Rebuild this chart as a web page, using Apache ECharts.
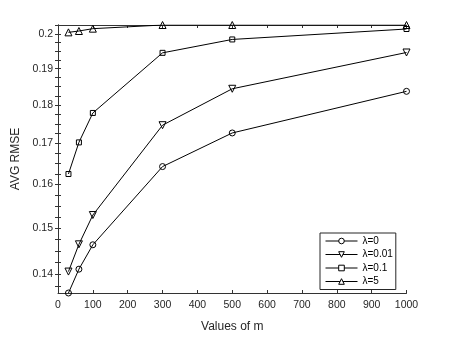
<!DOCTYPE html>
<html><head><meta charset="utf-8">
<script src="https://cdn.jsdelivr.net/npm/echarts@6/dist/echarts.min.js"></script>
<style>html,body{margin:0;padding:0;background:#fff}#c{width:449px;height:338px}</style>
</head><body><div id="c"></div>
<script>
const mValues = [30, 60, 100, 300, 500, 1000];
const seriesNames = ['\u03bb=0', '\u03bb=0.01', '\u03bb=0.1', '\u03bb=5'];
const lambda0 = [0.1362, 0.1411, 0.1463, 0.1643, 0.1727, 0.1837];
const lambda001 = [0.1406, 0.1464, 0.1529, 0.1747, 0.1844, 0.1946];
const lambda01 = [0.1625, 0.1703, 0.1779, 0.1945, 0.1984, 0.2015];
const lambda5 = [0.2005, 0.2009, 0.2016, 0.2027, 0.2027, 0.2027];
const yTickLabels = [0.14, 0.15, 0.16, 0.17, 0.18, 0.19, 0.2];
const yTicks = [0.1375,0.14,0.1425,0.145,0.1475,0.15,0.1525,0.155,0.1575,0.16,0.1625,0.165,0.1675,0.17,0.1725,0.175,0.1775,0.18,0.1825,0.185,0.1875,0.19,0.1925,0.195,0.1975,0.2,0.2025];
const xTickLabels = [0,100,200,300,400,500,600,700,800,900,1000];

const FONT = 'Liberation Sans, Arial, sans-serif';
const AX = '#333333';
const chart = echarts.init(document.getElementById('c'), null, {renderer:'canvas'});
const yMin = 0.1362, yMax = 0.2027;

function mk(name, vals, symbol, size, rot) {
  return {
    name, type:'line', data: mValues.map((m,i)=>[m, vals[i]]),
    symbol, symbolSize: size, symbolRotate: rot || 0, showAllSymbol:true,
    lineStyle:{color:'#000', width:1}, itemStyle:{color:'rgba(255,255,255,0)', borderColor:'#000', borderWidth:1},
    emphasis:{disabled:true}, animation:false, z:3
  };
}

chart.setOption({
  animation:false,
  grid:{left:58, right:42.5, top:25, bottom:37, containLabel:false},
  xAxis:[{
    type:'value', min:0, max:1000, interval:100, position:'bottom',
    name:'Values of m', nameLocation:'middle', nameGap:28,
    nameTextStyle:{fontFamily:FONT, fontSize:12, color:'#262626'},
    axisLine:{show:true, lineStyle:{color:AX, width:1}},
    axisTick:{show:true, inside:true, length:3, lineStyle:{color:AX}, customValues: xTickLabels},
    axisLabel:{fontFamily:FONT, fontSize:10.5, color:'#262626', margin:7, customValues: xTickLabels,
      formatter: v => String(v)},
    splitLine:{show:false}
  },{
    type:'value', min:0, max:1000, interval:100, position:'top',
    axisLine:{show:true, lineStyle:{color:AX, width:1}},
    axisTick:{show:true, inside:true, length:3, lineStyle:{color:AX}},
    axisLabel:{show:false}, splitLine:{show:false}
  }],
  yAxis:[{
    type:'log', min:yMin, max:yMax, position:'left',
    name:'AVG RMSE', nameLocation:'middle', nameGap:35, nameRotate:90,
    nameTextStyle:{fontFamily:FONT, fontSize:12, color:'#262626'},
    axisLine:{show:true, lineStyle:{color:AX, width:1}},
    axisTick:{show:true, inside:true, length:3, lineStyle:{color:AX}, customValues: yTicks},
    axisLabel:{fontFamily:FONT, fontSize:10.5, color:'#262626', margin:5, customValues: yTickLabels,
      formatter: v => String(Math.round(v*100)/100)},
    splitLine:{show:false}
  },{
    type:'log', min:yMin, max:yMax, position:'right',
    axisLine:{show:true, lineStyle:{color:AX, width:1}},
    axisTick:{show:true, inside:true, length:3, lineStyle:{color:AX}, customValues: yTicks},
    axisLabel:{show:false, customValues: yTickLabels}, splitLine:{show:false}
  }],
  legend:{
    orient:'vertical', left:320, top:233,
    data: seriesNames,
    itemWidth:32, itemHeight:7, itemGap:1.5, itemTextGap:3,
    padding:[2,3,2,5],
    borderColor:'#262626', borderWidth:1, backgroundColor:'#fff',
    symbolRotate:'inherit',
    itemStyle:{color:'#fff', borderColor:'#000', borderWidth:1},
    lineStyle:{color:'#000', width:1},
    textStyle:{fontFamily:FONT, fontSize:10, color:'#000', lineHeight:12},
    selectedMode:false
  },
  series:[
    mk(seriesNames[0], lambda0, 'circle', 6),
    mk(seriesNames[1], lambda001, 'triangle', 7, 180),
    mk(seriesNames[2], lambda01, 'rect', 5),
    mk(seriesNames[3], lambda5, 'triangle', 7)
  ]
});
</script></body></html>
